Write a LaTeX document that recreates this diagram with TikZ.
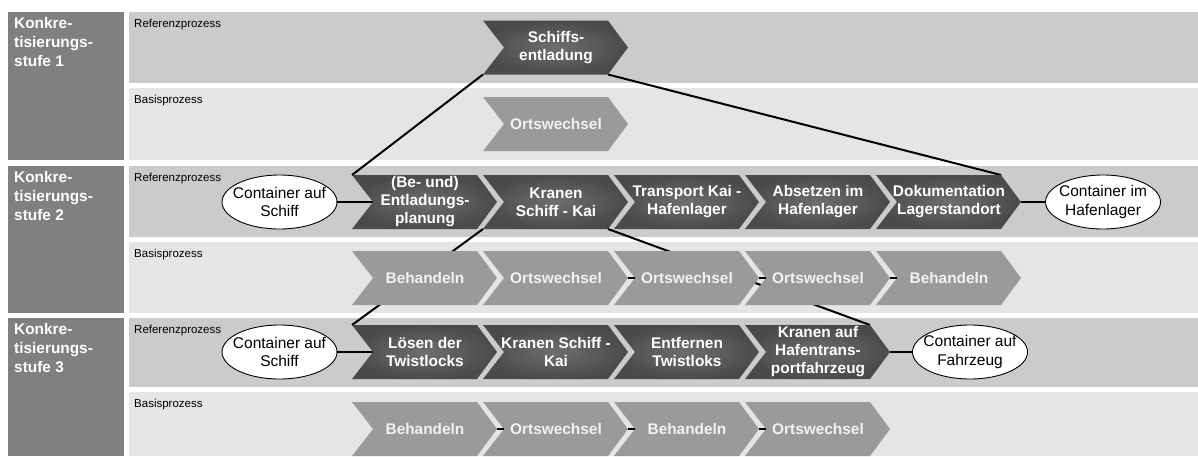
\documentclass[tikz,border=0pt]{standalone}
\usepackage{fontspec}
\setmainfont{Liberation Sans}
\usetikzlibrary{calc,shapes.geometric}
\pgfdeclarelayer{bg}
\pgfdeclarelayer{lines}
\pgfsetlayers{bg,lines,main}

\definecolor{lvlgray}{HTML}{808080}
\definecolor{refband}{HTML}{CBCBCB}
\definecolor{basband}{HTML}{E5E5E5}
\definecolor{basfill}{HTML}{9A9A9A}
\definecolor{refin}{HTML}{6E6E6E}
\definecolor{refout}{HTML}{4A4A4A}

\tikzset{
  chbox/.style={minimum width=104pt, minimum height=54pt, inner sep=0pt, outer sep=0pt},
  rffill/.style={inner color=refin, outer color=refout},
  bsfill/.style={fill=basfill},
  rftxt/.style={text=white, font=\bfseries\fontsize{15.4}{18}\selectfont, align=center, inner sep=0pt},
  bstxt/.style={text=white!95!black, font=\bfseries\fontsize{15.4}{18}\selectfont, align=center, inner sep=0pt},
  proc/.style={ellipse, draw=black, line width=0.9pt, fill=white, minimum width=115pt, minimum height=54pt, inner sep=0pt, outer sep=0pt},
  proctxt/.style={font=\fontsize{15.5}{18.3}\selectfont, align=center, inner sep=0pt},
  conn/.style={line width=1.3pt, black},
  refine/.style={line width=2pt, black},
  bandlbl/.style={anchor=base west, font=\fontsize{11.5}{13}\selectfont, inner sep=0pt},
  lvltxt/.style={text=white, font=\bfseries\fontsize{15.4}{19}\selectfont, align=left, inner sep=0pt, anchor=north west},
}

% #1 name, #2 left x, #3 mid y, #4 kind (rf/bs), #5 text
\newcommand\chv[5]{%
  \path[#4fill] (#2,#3-27) -- (#2+125,#3-27) -- (#2+145,#3) -- (#2+125,#3+27) -- (#2,#3+27) -- (#2+21,#3) -- cycle;
  \node[chbox, label={[#4txt]center:{#5}}] (#1) at (#2+73,#3) {};
}
\newcommand\prc[4]{% name, x, y, text
  \node[proc, label={[proctxt]center:{#4}}] (#1) at (#2,#3) {};
}

\begin{document}
\begin{tikzpicture}[x=1pt,y=-1pt]
\useasboundingbox (0,0) rectangle (1198,456);

\begin{pgfonlayer}{bg}
  \fill[white] (0,0) rectangle (1198,456);
  % level boxes
  \fill[lvlgray] (8,12) rectangle (124,160);
  \fill[lvlgray] (8,166) rectangle (124,313);
  \fill[lvlgray] (8,318) rectangle (124,456);
  % bands
  \fill[refband] (129,12) rectangle (1198,83);
  \fill[basband] (129,88) rectangle (1198,160);
  \fill[refband] (129,166) rectangle (1198,237);
  \fill[basband] (129,242) rectangle (1198,313);
  \fill[refband] (129,318) rectangle (1198,387);
  \fill[basband] (129,392) rectangle (1198,456);
\end{pgfonlayer}

% level labels
\node[lvltxt] (k1) at (14,17.5) {Konkre-\\tisierungs-\\stufe 1};
\node[lvltxt] (k2) at (14,171.5) {Konkre-\\tisierungs-\\stufe 2};
\node[lvltxt] (k3) at (14,323.5) {Konkre-\\tisierungs-\\stufe 3};

% band labels
\node[bandlbl] (rl1) at (134,27.3) {Referenzprozess};
\node[bandlbl] (bl1) at (134,103) {Basisprozess};
\node[bandlbl] (rl2) at (134,181.5) {Referenzprozess};
\node[bandlbl] (bl2) at (134,257) {Basisprozess};
\node[bandlbl] (rl3) at (134,333.5) {Referenzprozess};
\node[bandlbl] (bl3) at (134,407) {Basisprozess};

% level 1
\chv{sch}{483}{47.5}{rf}{Schiffs-\\entladung}
\chv{o1}{483}{124}{bs}{Ortswechsel}

% level 2 reference
\chv{c21}{352}{202}{rf}{(Be- und)\\Entladungs-\\planung}
\chv{c22}{483}{202}{rf}{Kranen\\Schiff - Kai}
\chv{c23}{614}{202}{rf}{Transport Kai -\\Hafenlager}
\chv{c24}{745}{202}{rf}{Absetzen im\\Hafenlager}
\chv{c25}{876}{202}{rf}{Dokumentation\\Lagerstandort}
\prc{e2a}{279.5}{202}{Container auf\\Schiff}
\prc{e2b}{1103}{202}{Container im\\Hafenlager}

% level 2 basis
\chv{b21}{352}{278}{bs}{Behandeln}
\chv{b22}{483}{278}{bs}{Ortswechsel}
\chv{b23}{614}{278}{bs}{Ortswechsel}
\chv{b24}{745}{278}{bs}{Ortswechsel}
\chv{b25}{876}{278}{bs}{Behandeln}

% level 3 reference
\chv{c31}{352}{352}{rf}{Lösen der\\Twistlocks}
\chv{c32}{483}{352}{rf}{Kranen Schiff -\\Kai}
\chv{c33}{614}{352}{rf}{Entfernen\\Twistloks}
\chv{c34}{745}{352}{rf}{Kranen auf\\Hafentrans-\\portfahrzeug}
\prc{e3a}{279.5}{352}{Container auf\\Schiff}
\prc{e3b}{970}{352}{Container auf\\Fahrzeug}

% level 3 basis
\chv{b31}{352}{429}{bs}{Behandeln}
\chv{b32}{483}{429}{bs}{Ortswechsel}
\chv{b33}{614}{429}{bs}{Behandeln}
\chv{b34}{745}{429}{bs}{Ortswechsel}

\begin{pgfonlayer}{lines}
  % refinement lines
  \draw[refine] ($(sch.south west)+(-21,0)$) -- ($(c21.north west)+(-21,0)$);
  \draw[refine] (sch.south east) -- (c25.north east);
  \draw[refine] ($(c22.south west)+(-21,0)$) -- ($(c31.north west)+(-21,0)$);
  \draw[refine] (c22.south east) -- (c34.north east);
  % process connectors
  \draw[conn] (e2a.east) -- (c21.west);
  \draw[conn] ($(c25.east)+(20,0)$) -- (e2b.west);
  \draw[conn] (e3a.east) -- (c31.west);
  \draw[conn] ($(c34.east)+(20,0)$) -- (e3b.west);
\end{pgfonlayer}

% small connectors in basis rows
\draw[conn] ($(b22.east)+(20,0)$) -- (b23.west);
\draw[conn] ($(b23.east)+(20,0)$) -- (b24.west);
\draw[conn] ($(b24.east)+(20,0)$) -- (b25.west);
\draw[conn] ($(b31.east)+(20,0)$) -- (b32.west);
\draw[conn] ($(b32.east)+(20,0)$) -- (b33.west);
\draw[conn] ($(b33.east)+(20,0)$) -- (b34.west);
\end{tikzpicture}
\end{document}
